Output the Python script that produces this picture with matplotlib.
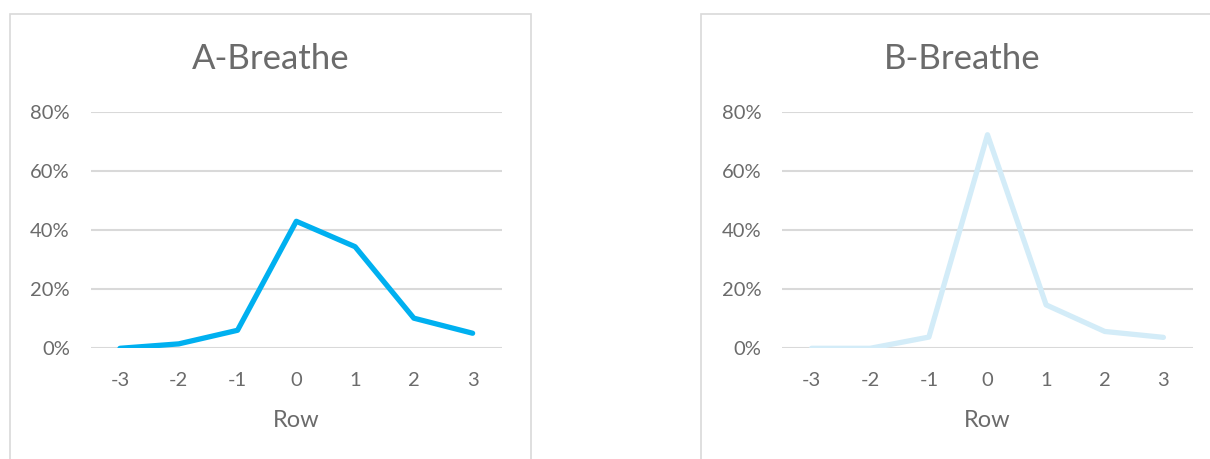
import matplotlib.pyplot as plt
from matplotlib.patches import Rectangle
from matplotlib.ticker import PercentFormatter

plt.rcParams['font.family'] = ['Lato', 'DejaVu Sans']
plt.rcParams['axes.unicode_minus'] = False  # plain hyphen like the original

# ====== data ======
rows = [-3, -2, -1, 0, 1, 2, 3]
a_breathe = [0.0, 0.015, 0.061, 0.430, 0.344, 0.102, 0.051]
b_breathe = [0.0, 0.0, 0.038, 0.723, 0.147, 0.057, 0.037]
titles = ['A-Breathe', 'B-Breathe']
colors = ['#00B0F0', '#D3ECF8']
yticks = [0, 0.2, 0.4, 0.6, 0.8]

W, H = 1210, 459
TEXT = '#6B6B6B'
GRID = '#D9D9D9'

fig = plt.figure(figsize=(W / 100, H / 100), dpi=100)


def fx(px):
    return px / W


def fy(py):
    return 1 - py / H


# chart frames (bottom / right run off the picture)
for x0, x1 in [(10, 531), (700.7, 1240)]:
    fig.patches.append(Rectangle((fx(x0), fy(480)), fx(x1 - x0), (480 - 14) / H,
                                 transform=fig.transFigure, fill=False,
                                 edgecolor=GRID, linewidth=1.2))

panels = [
    (90.6, 502.0, a_breathe, 270.5),
    (782.3, 1192.7, b_breathe, 962.0),
]

for i, (left, right, vals, tcx) in enumerate(panels):
    ax = fig.add_axes([fx(left), fy(348.3), fx(right - left), (348.3 - 112) / H])
    ax.plot(rows, vals, color=colors[i], linewidth=3.8,
            solid_joinstyle='round', solid_capstyle='round', zorder=3)
    ax.set_xlim(-3.5, 3.5)
    ax.set_ylim(0, 0.8)
    ax.set_yticks(yticks)
    ax.set_xticks(rows)
    ax.yaxis.set_major_formatter(PercentFormatter(1.0, decimals=0))
    ax.grid(axis='y', color=GRID, linewidth=1.5)
    ax.set_axisbelow(True)
    for s in ax.spines.values():
        s.set_visible(False)
    ax.tick_params(axis='both', length=0, labelsize=14.5, labelcolor=TEXT)
    ax.tick_params(axis='y', pad=15)
    ax.tick_params(axis='x', pad=17)
    ax.set_xlabel('Row', fontsize=17, color=TEXT, labelpad=15)
    ax.set_facecolor('none')
    fig.text(fx(tcx), fy(69), titles[i], fontsize=25, color=TEXT,
             ha='center', va='baseline')

fig.savefig('out.png', dpi=100, facecolor='white')
